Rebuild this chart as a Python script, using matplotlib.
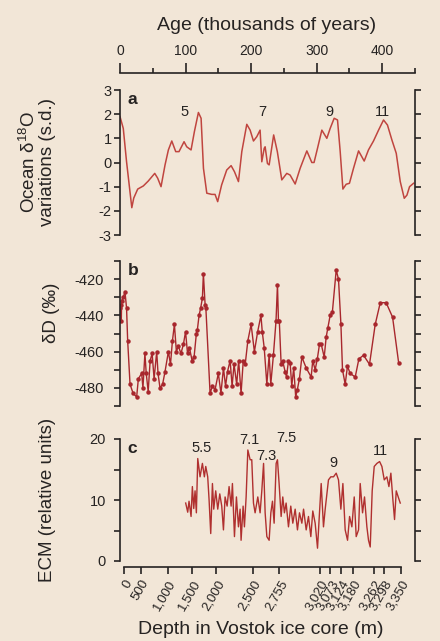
import matplotlib.pyplot as plt

plt.rcParams['font.family'] = ['Liberation Sans', 'DejaVu Sans']
plt.rcParams['mathtext.fontset'] = 'custom'
plt.rcParams['mathtext.rm'] = 'Liberation Sans'
plt.rcParams['axes.unicode_minus'] = False

ink = '#262322'
bg = '#f2e6d7'

# Panel a: ocean d18O (s.d.) against age (kyr)
age_a = [0, 5, 10, 18, 21, 27, 35.6, 43, 53, 57.5, 62.6, 68.7, 73.8, 79, 85, 90,
         97.7, 101.8, 108.4, 113.5, 119.6, 123.7, 127.3, 132.4, 140, 145, 149,
         155, 162.8, 169.5, 174.6, 180.7, 185.8, 193.4, 198.5, 203.6, 208.7,
         213.7, 216.3, 220, 221.4, 224.9, 227.5, 234.4, 240, 246.8, 254.4,
         259.5, 267.2, 274.8, 285, 292.6, 296, 301.3, 307.9, 315.5, 320.6,
         326.7, 331.8, 335.9, 340, 345, 350, 356.2, 363.9, 372.5, 379, 386.7,
         394.4, 402, 408, 414.8, 421.4, 427.5, 433.6, 437.7, 441.7, 447.8]
d18o = [1.9, 1.41, 0.03, -1.87, -1.47, -1.1, -0.97, -0.77, -0.45, -0.65, -1.0,
        -0.1, 0.52, 0.89, 0.45, 0.45, 0.86, 0.65, 0.52, 1.28, 2.07, 1.83,
        -0.24, -1.27, -1.32, -1.32, -1.62, -0.93, -0.31, -0.13, -0.38, -0.79,
        0.45, 1.58, 1.34, 0.89, 1.07, 1.34, 0.03, 0.59, 0.65, -0.04, -0.1,
        1.14, 0.45, -0.72, -0.45, -0.52, -0.89, -0.24, 0.48, 0.0, 0.0, 0.59,
        1.34, 1.0, 1.41, 1.83, 1.76, 0.45, -1.1, -0.9, -0.86, -0.24, 0.48,
        0.06, 0.52, 0.89, 1.34, 1.76, 1.55, 0.93, 0.38, -0.79, -1.48, -1.35,
        -1.0, -0.86]

# Panel b: Vostok deuterium (per mil)
age_b = [0, 1, 2, 2.5, 5, 7.6, 10, 11.7, 15.3, 20, 25.4, 28, 33, 35, 38, 40,
         43, 46, 49, 52, 56, 58, 61, 65, 68.7, 73.8, 77, 80, 83, 86, 89, 93,
         96.7, 100, 103, 106, 110, 113, 116.5, 118, 120.6, 123, 125.7, 127.2,
         129.8, 131, 137.4, 141, 145, 150, 154, 157.8, 161, 164, 168, 171,
         174, 178, 181, 184.7, 188, 191, 195, 200, 205, 210, 215, 217, 220,
         224, 227.5, 230, 234, 238, 240.2, 241.7, 243, 245.8, 248, 251.9,
         254, 257, 259.5, 262, 265, 268, 270.5, 273.7, 277.4, 284, 291.6,
         294, 297.7, 301, 304.3, 307, 311.5, 314.5, 317, 320.6, 324, 329.8,
         333.3, 337, 339.4, 343.5, 347, 351, 358.8, 364.4, 371.5, 380.6,
         389.3, 397, 406, 415.8, 425]
dD = [-436, -434, -443, -432, -430, -427, -436, -454, -478, -483, -485, -475,
      -472, -480, -461, -472, -482, -465, -461, -475, -460, -472, -480, -478,
      -471, -460, -467, -454, -445, -460, -457, -461, -456, -449, -461, -458,
      -465, -463, -450, -448, -440, -436, -430.5, -417, -434, -436, -483,
      -479, -481, -472, -483, -469, -479, -471, -465, -479, -467, -478, -465,
      -483, -465, -467, -454, -445, -460, -449, -440, -449, -458, -478, -462,
      -478, -462, -443, -423, -443, -443, -467, -465, -471, -474, -465, -466,
      -479, -469, -485, -481, -475, -463, -469, -474, -465, -470, -464, -456,
      -456, -463, -452, -447, -440, -438, -415, -420, -445, -470, -478, -468,
      -472, -474, -464, -462, -467, -445, -433, -433, -441, -466]

# Panel c: ECM (relative units)
age_c = [100.2, 103.3, 105.3, 108.4, 110.4, 112.5, 114.5, 116.5, 118.6,
         122.1, 125.7, 128.7, 130.8, 133.8, 135.9, 138.4, 141, 143, 146,
         149.1, 152.2, 155.2, 157.8, 160.3, 163.4, 166.4, 169.5, 171.5,
         174.6, 177.6, 180.7, 183.2, 184.7, 187.8, 189.8, 192.4, 195, 198.5,
         201, 203.6, 206.1, 210.2, 213.7, 216.3, 219, 221.4, 224, 227.5,
         230.1, 232.6, 235.1, 238.2, 240.2, 242.7, 245.8, 248.3, 250.8,
         253.4, 257, 260.5, 263.6, 267.2, 270.7, 273.8, 277.4, 280, 284,
         287.5, 291.1, 294.1, 297.7, 301.3, 304.3, 306.9, 310.4, 313, 318,
         321.6, 325.7, 329.8, 333.3, 336.9, 340, 343.5, 347.1, 350.2, 353.7,
         357.3, 360.3, 363.9, 366.4, 370, 373, 376.6, 379.1, 381.7, 384.7,
         387.8, 391.9, 396, 399.5, 403.1, 407.1, 410.2, 413.2, 416.3, 418.8,
         421.4, 424.4, 427.5]
ecm = [9.5, 8.0, 9.8, 7.3, 12.2, 8.6, 11.5, 7.9, 16.8,
       13.8, 16.0, 13.8, 15.5, 13.8, 10.0, 4.5, 12.7, 8.5, 11.5,
       8.5, 11.0, 9.0, 5.1, 10.5, 9.0, 12.2, 9.0, 12.7,
       4.0, 10.5, 5.6, 8.5, 3.4, 9.0, 5.6, 10.5, 18.2, 16.6,
       16.6, 9.5, 7.9, 10.5, 7.9, 11.5, 16.0, 7.9, 4.0, 3.4,
       7.9, 9.8, 6.2, 16.0, 16.6, 12.7, 7.3, 10.5, 7.9,
       9.5, 5.6, 9.0, 6.2, 8.5, 5.1, 7.9, 6.2, 8.5, 5.1,
       7.3, 4.0, 8.2, 6.2, 2.1, 7.9, 12.7, 5.6, 8.5, 13.3,
       13.8, 13.8, 14.4, 13.3, 8.5, 12.7, 5.1, 3.4, 7.3, 5.6,
       10.5, 4.0, 5.1, 12.7, 7.9, 10.5, 5.6, 3.4, 2.3, 11.5,
       15.5, 16.0, 16.3, 15.5, 13.3, 13.8, 12.2, 14.4, 10.0, 6.8,
       11.5, 10.5, 9.5]

# depth scale under panel c (non-linear in age)
depth_labels = ['0', '500', '1,000', '1,500', '2,000', '2,500', '2,755',
                '3,020', '3,073', '3,124', '3,180', '3,262', '3,298', '3,350']
depth_ages = [6, 32, 73, 110, 147, 203, 243, 305, 321, 337, 356, 388, 402, 428]

# peak labels
stage_a = ['5', '7', '9', '11']
stage_a_x = [99, 217, 319, 400]
stage_c = ['5.5', '7.1', '7.3', '7.5', '9', '11']
stage_c_x = [124.6, 197, 223, 253.4, 325, 397]
stage_c_y = [18.5, 19.8, 17.2, 20.2, 16.1, 18.0]

W, H = 440, 641
fig = plt.figure(figsize=(W / 100, H / 100), dpi=100, facecolor=bg)


def box(top, bottom):
    return [120 / W, 1 - bottom / H, 295 / W, (bottom - top) / H]


def style(ax, pad):
    ax.set_facecolor('none')
    ax.set_xlim(0, 450)
    ax.spines['top'].set_visible(False)
    ax.spines['bottom'].set_visible(False)
    for s in ['left', 'right']:
        ax.spines[s].set_color(ink)
        ax.spines[s].set_linewidth(1.2)
    ax.tick_params(axis='x', bottom=False, labelbottom=False)
    ax.tick_params(axis='y', which='both', direction='out', length=4,
                   width=1.2, color=ink, labelsize=10.5, labelcolor=ink,
                   right=True, pad=pad)


ax_a = fig.add_axes(box(90, 235))
ax_b = fig.add_axes(box(261, 406))
ax_c = fig.add_axes(box(439, 561))

# a
style(ax_a, 2)
ax_a.plot(age_a, d18o, color='#c0453f', lw=1.1)
ax_a.set_ylim(-3, 3)
ax_a.set_yticks(range(-3, 4))
for s, x in zip(stage_a, stage_a_x):
    ax_a.text(x, 2.1, s, ha='center', va='center', fontsize=10.5, color=ink)

# b
style(ax_b, 8)
ax_b.plot(age_b, dD, color='#a8272d', lw=1.0, marker='o', ms=2.2)
ax_b.set_ylim(-490, -410)
ax_b.set_yticks(range(-490, -409, 10), minor=True)
ax_b.set_yticks([-480, -460, -440, -420])

# c
style(ax_c, 6)
ax_c.plot(age_c, ecm, color='#b0302f', lw=1.0)
ax_c.set_ylim(0, 20)
ax_c.set_yticks([0, 5, 10, 15, 20], minor=True)
ax_c.set_yticks([0, 10, 20])
for s, x, y in zip(stage_c, stage_c_x, stage_c_y):
    ax_c.text(x, y, s, ha='center', va='center', fontsize=10.5, color=ink)
ax_c.spines['bottom'].set_visible(True)
ax_c.spines['bottom'].set_position(('outward', 4))
ax_c.spines['bottom'].set_bounds(depth_ages[0], depth_ages[-1])
ax_c.spines['bottom'].set_color(ink)
ax_c.spines['bottom'].set_linewidth(1.2)
ax_c.set_xticks(depth_ages)
ax_c.set_xticklabels(depth_labels, rotation=60, ha='right', va='top',
                     rotation_mode='anchor')
ax_c.tick_params(axis='x', bottom=True, labelbottom=True, direction='out',
                 length=5, width=1.2, color=ink, labelsize=9.5,
                 labelcolor=ink, pad=3)

# panel letters
for ax, letter in [(ax_a, 'a'), (ax_b, 'b'), (ax_c, 'c')]:
    ax.text(0.025, 0.985, letter, transform=ax.transAxes, ha='left', va='top',
            fontsize=12.5, fontweight='bold', color=ink)

# age axis at the top
ax_t = fig.add_axes([120 / W, 1 - 73 / H, 295 / W, 0.0001])
ax_t.set_facecolor('none')
ax_t.set_xlim(0, 450)
ax_t.set_yticks([])
for s in ['top', 'left', 'right']:
    ax_t.spines[s].set_visible(False)
ax_t.spines['bottom'].set_color(ink)
ax_t.spines['bottom'].set_linewidth(1.2)
ax_t.set_xticks([0, 100, 200, 300, 400])
ax_t.set_xticks([50, 150, 250, 350, 450], minor=True)
ax_t.tick_params(axis='x', which='both', direction='in', bottom=True,
                 top=False, labelbottom=False, labeltop=True, width=1.2,
                 color=ink, labelsize=10, labelcolor=ink, pad=11)
ax_t.tick_params(axis='x', which='major', length=7.5)
ax_t.tick_params(axis='x', which='minor', length=3.8)

# axis titles
fig.text(267 / W, 1 - 25 / H, 'Age (thousands of years)', ha='center',
         va='center', fontsize=14, color=ink)
fig.text(261 / W, 1 - 629 / H, 'Depth in Vostok ice core (m)', ha='center',
         va='center', fontsize=14, color=ink)
fig.text(29 / W, 1 - 162 / H, r'Ocean δ$^{\mathregular{18}}$O', rotation=90,
         ha='center', va='center', fontsize=13.5, color=ink)
fig.text(47 / W, 1 - 162 / H, 'variations (s.d.)', rotation=90, ha='center',
         va='center', fontsize=13.5, color=ink)
fig.text(51 / W, 1 - 313 / H, 'δD (‰)', rotation=90, ha='center',
         va='center', fontsize=13.5, color=ink)
fig.text(48 / W, 1 - 500 / H, 'ECM (relative units)', rotation=90,
         ha='center', va='center', fontsize=13.5, color=ink)

fig.savefig('out.png', dpi=100, facecolor=bg)
